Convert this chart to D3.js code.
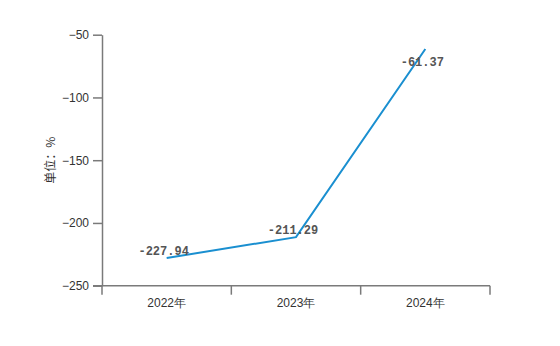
<!DOCTYPE html>
<html><head><meta charset="utf-8">
<script src="https://cdn.jsdelivr.net/npm/d3@7/dist/d3.min.js"></script>
<style>body{margin:0;background:#fff}svg{display:block}</style>
</head><body>
<script>
const categories = ["2022年", "2023年", "2024年"];
const values = [-227.94, -211.29, -61.37];
const yTicks = [-250, -200, -150, -100, -50];
const yLabel = "单位：%";

const W = 560, H = 346;
const m = {left: 102, right: 70, top: 34.7, bottom: 60.3};
const svg = d3.select("body").append("svg").attr("width", W).attr("height", H);

const x = d3.scaleBand().domain(categories).range([m.left, W - m.right]);
const y = d3.scaleLinear().domain([-250, -50]).range([H - m.bottom, m.top]);

const axisColor = "#7a7a7a";
const gx = svg.append("g").attr("transform", `translate(0,${H - m.bottom})`)
  .call(d3.axisBottom(x).tickSize(9).tickSizeOuter(9).tickPadding(4));
gx.select(".domain").attr("stroke", axisColor).attr("stroke-width", 1.5)
  .attr("d", `M${m.left - 9},0H${W - m.right}`);
gx.selectAll(".tick line").remove();
// tick marks at band boundaries
const bounds = categories.map(c => x(c)).concat([x.range()[1]]);
gx.selectAll(".bt").data(bounds).enter().append("line")
  .attr("x1", d => d).attr("x2", d => d).attr("y1", 0).attr("y2", 9)
  .attr("stroke", axisColor).attr("stroke-width", 1.5);
gx.selectAll(".tick text").attr("fill", "#333").attr("font-size", 12)
  .attr("font-family", "Liberation Sans, Arial, sans-serif");

const gy = svg.append("g").attr("transform", `translate(${m.left},0)`)
  .call(d3.axisLeft(y).tickValues(yTicks).tickFormat(d => d.toString().replace("-", "−")).tickSize(9).tickSizeOuter(0).tickPadding(4));
gy.select(".domain").attr("stroke", axisColor).attr("stroke-width", 1.5);
gy.selectAll(".tick line").attr("stroke", axisColor).attr("stroke-width", 1.5);
gy.selectAll(".tick text").attr("fill", "#333").attr("font-size", 12)
  .attr("font-family", "Liberation Sans, Arial, sans-serif");

svg.append("text")
  .attr("transform", `translate(55,${(m.top + H - m.bottom) / 2}) rotate(-90)`)
  .attr("text-anchor", "middle").attr("font-size", 12).attr("fill", "#333")
  .attr("font-family", "Noto Sans CJK SC, sans-serif").text(yLabel);

const pts = categories.map((c, i) => ({c, v: values[i]}));
svg.append("path").datum(pts)
  .attr("fill", "none").attr("stroke", "#1a8fd0").attr("stroke-width", 2)
  .attr("d", d3.line().x(d => x(d.c) + x.bandwidth() / 2).y(d => y(d.v)));

svg.selectAll(".lbl").data(pts).enter().append("text")
  .attr("x", d => x(d.c) + x.bandwidth() / 2 - 3)
  .attr("y", d => y(d.v) < m.top + 25 ? y(d.v) + 17 : y(d.v) - 3)
  .attr("text-anchor", "middle").attr("font-size", 12).attr("font-weight", "bold")
  .attr("fill", "#555").attr("font-family", "Liberation Mono, monospace")
  .text(d => d.v.toFixed(2));
</script>
</body></html>
